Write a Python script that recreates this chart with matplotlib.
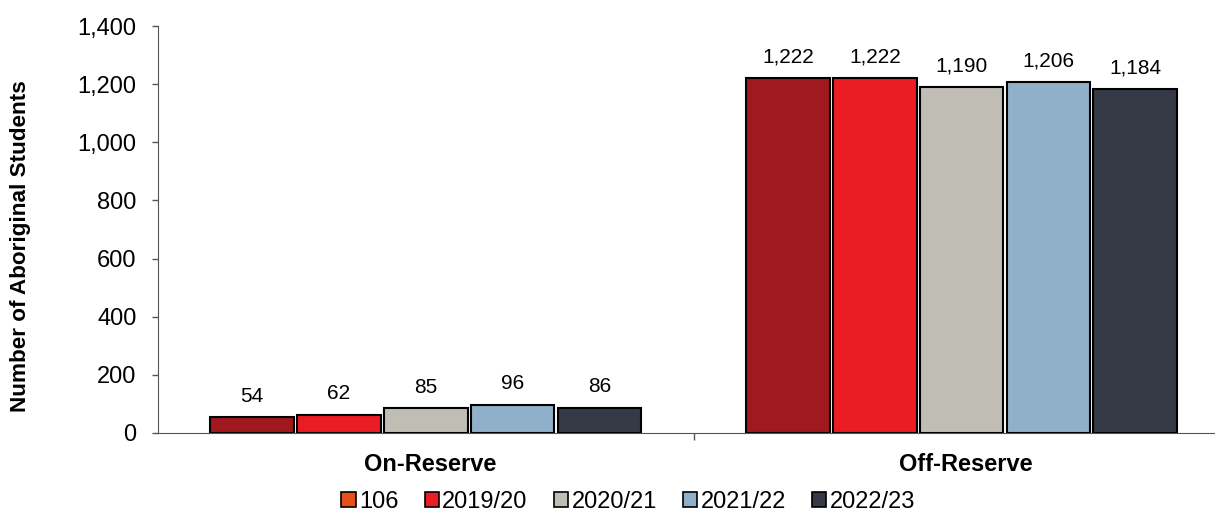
import matplotlib
matplotlib.use("Agg")
import matplotlib.pyplot as plt
from matplotlib.patches import Patch
import numpy as np

plt.rcParams['font.family'] = ['Liberation Sans', 'DejaVu Sans']

categories = ["On-Reserve", "Off-Reserve"]
series_labels = ["106", "2019/20", "2020/21", "2021/22", "2022/23"]
values = {
    "106": [54, 1222],
    "2019/20": [62, 1222],
    "2020/21": [85, 1190],
    "2021/22": [96, 1206],
    "2022/23": [86, 1184],
}
bar_colors = ["#A0191E", "#EC1C24", "#C0BDB5", "#8FB0C8", "#363A46"]
legend_colors = ["#E8501A", "#EC1C24", "#C0BDB5", "#8FB0C8", "#363A46"]

fig = plt.figure(figsize=(12.15, 5.14), dpi=100)
ax = fig.add_axes([0.130, 0.1576, 0.882, 0.7916])

x = np.arange(len(categories))
step = 0.162
width = 0.156
for i, (lab, col) in enumerate(zip(series_labels, bar_colors)):
    off = (i - 2) * step
    vals = values[lab]
    ax.bar(x + off, vals, width, color=col, edgecolor="black", linewidth=1.5, zorder=3)
    for xi, v in zip(x, vals):
        ax.text(xi + off, v + 40, f"{v:,}", ha="center", va="bottom", fontsize=15)

ax.set_xlim(-0.5, 1.5)
ax.set_ylim(0, 1400)
ax.set_yticks(np.arange(0, 1401, 200))
ax.yaxis.set_major_formatter(matplotlib.ticker.FuncFormatter(lambda v, p: f"{int(v):,}"))
ax.tick_params(axis="y", labelsize=17, length=4.5, width=1, color="#555555", pad=11)
ax.set_xticks([0.5])
ax.set_xticklabels([""])
ax.tick_params(axis="x", length=5, width=1, color="#555555")
for xi, c in zip(x, categories):
    ax.text(xi + 0.008, -68, c, ha="center", va="top", fontsize=17, fontweight="bold",
            transform=ax.transData)

for s in ["top", "right"]:
    ax.spines[s].set_visible(False)
ax.spines["left"].set_color("#555555")
ax.spines["bottom"].set_color("#555555")

ax.set_ylabel("Number of Aboriginal Students", fontsize=16.2, fontweight="bold")
ax.yaxis.set_label_coords(-0.118, 0.46)

handles = [Patch(facecolor=c, edgecolor="black", linewidth=1.2) for c in legend_colors]
fig.legend(handles, series_labels, loc="center", bbox_to_anchor=(0.517, 0.024), ncol=5,
           frameon=False, fontsize=17, handlelength=0.6, handleheight=0.6,
           handletextpad=0.15, columnspacing=1.1)

fig.savefig("out.png", dpi=100)
